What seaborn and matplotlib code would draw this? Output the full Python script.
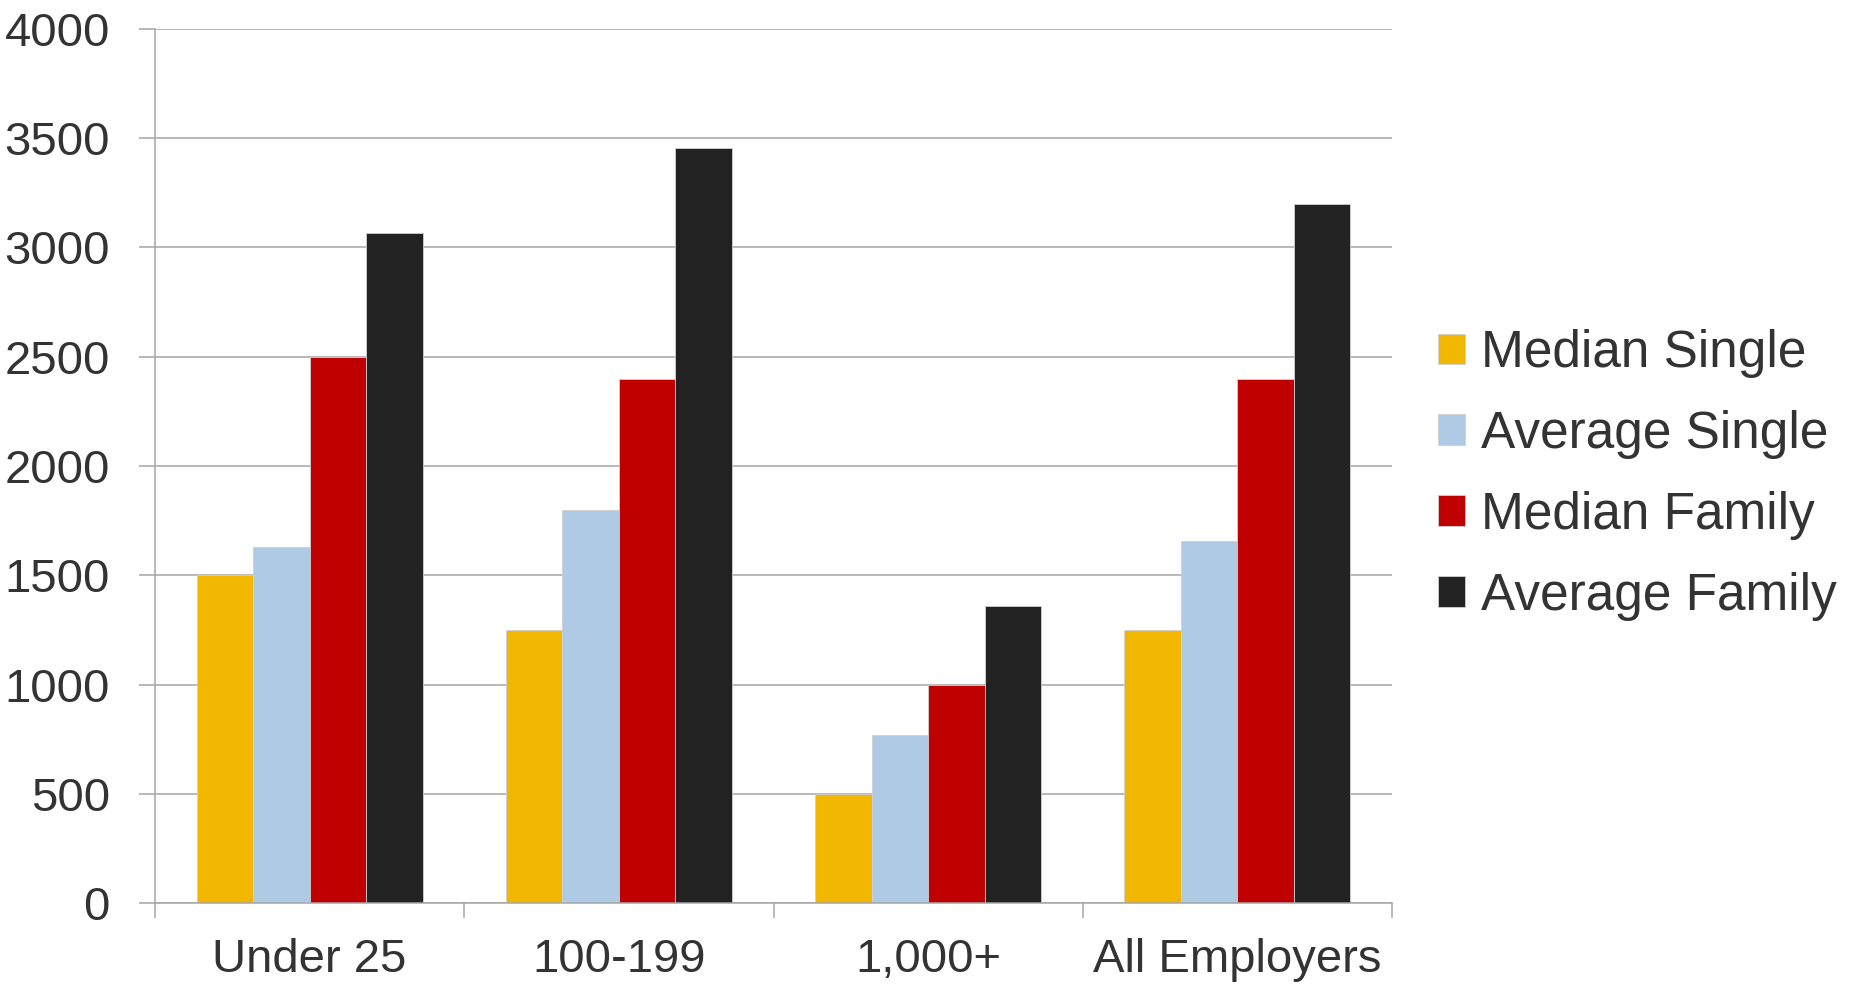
import pandas as pd
import seaborn as sns
import matplotlib.pyplot as plt
from matplotlib.ticker import FixedLocator

# chart data
categories = ['Under 25', '100-199', '1,000+', 'All Employers']
series = ['Median Single', 'Average Single', 'Median Family', 'Average Family']
median_single = [1500, 1250, 500, 1250]
average_single = [1630, 1800, 770, 1655]
median_family = [2500, 2400, 1000, 2400]
average_family = [3065, 3455, 1360, 3200]
colors = ['#F2B700', '#AECAE4', '#C00000', '#222222']
y_ticks = [0, 500, 1000, 1500, 2000, 2500, 3000, 3500, 4000]

# build long-form table for seaborn
rows = []
for name, values in zip(series, [median_single, average_single, median_family, average_family]):
    for cat, v in zip(categories, values):
        rows.append({'Category': cat, 'Series': name, 'Value': v})
df = pd.DataFrame(rows)

sns.set_style('white')
plt.rcParams['font.family'] = ['Liberation Sans', 'DejaVu Sans']
text_color = '#333333'
grid_color = '#A6A6A6'

fig = plt.figure(figsize=(18.51, 9.85), dpi=100)
ax = fig.add_axes([155 / 1851, 1 - 903 / 985, (1392 - 155) / 1851, (903 - 29) / 985])

sns.barplot(data=df, x='Category', y='Value', hue='Series', order=categories,
            hue_order=series, palette=colors, saturation=1, width=0.73, gap=0,
            edgecolor='#d0d0d0', linewidth=0.6, ax=ax)

# axes styling
ax.set_ylim(0, 4000)
ax.set_xlim(-0.5, len(categories) - 0.5)
ax.set_yticks(y_ticks)
ax.yaxis.grid(True, color=grid_color, linewidth=1.1)
ax.set_axisbelow(True)
ax.set_xlabel('')
ax.set_ylabel('')
for side in ['top', 'right']:
    ax.spines[side].set_visible(False)
for side in ['left', 'bottom']:
    ax.spines[side].set_color(grid_color)
    ax.spines[side].set_linewidth(1.1)

ax.tick_params(axis='y', length=11.5, width=1.1, color=grid_color, pad=21,
               labelsize=34, labelcolor=text_color, left=True)
ax.tick_params(axis='x', which='major', length=0, pad=25,
               labelsize=34, labelcolor=text_color)
ax.xaxis.set_minor_locator(FixedLocator([i - 0.5 for i in range(len(categories) + 1)]))
ax.tick_params(axis='x', which='minor', length=11, width=1.1, color=grid_color, bottom=True)

# legend on the right
handles, labels = ax.get_legend_handles_labels()
ax.legend(handles, labels, loc='center left', bbox_to_anchor=(1438 / 1851, 0.518),
          bbox_transform=fig.transFigure, frameon=False, fontsize=37,
          handlelength=0.53, handleheight=0.53, handletextpad=0.3,
          labelspacing=0.62, borderpad=0, borderaxespad=0, labelcolor=text_color)

fig.savefig('out.png', dpi=100)
